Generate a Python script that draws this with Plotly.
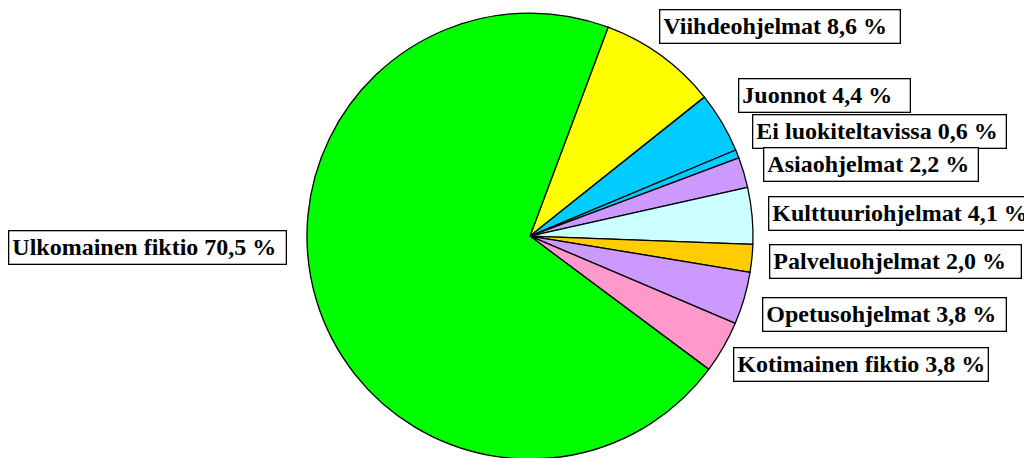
import plotly.graph_objects as go

categories = ["Viihdeohjelmat", "Juonnot", "Ei luokiteltavissa", "Asiaohjelmat",
              "Kulttuuriohjelmat", "Palveluohjelmat", "Opetusohjelmat",
              "Kotimainen fiktio", "Ulkomainen fiktio"]
values = [8.6, 4.4, 0.6, 2.2, 4.1, 2.0, 3.8, 3.8, 70.5]
value_labels = ["8,6", "4,4", "0,6", "2,2", "4,1", "2,0", "3,8", "3,8", "70,5"]
colors = ["#FFFF00", "#00CCFF", "#00CCFF", "#CC99FF", "#CCFFFF", "#FFCC00",
          "#CC99FF", "#FF99CC", "#00FF00"]

W, H = 1032, 458
# label box layout in pixels: left edge, centre y, box width
box_left = [659, 738, 752, 763, 768, 769, 762, 733, 8]
box_cy = [25.5, 95, 130, 163.5, 212.5, 260, 313.5, 363, 246]
box_w = [242, 173, 255, 216, 263, 253, 245, 256, 279]

fig = go.Figure(go.Pie(
    labels=categories, values=values, sort=False, direction="clockwise",
    rotation=20.5, marker=dict(colors=colors, line=dict(color="black", width=1.3)),
    textinfo="none", hoverinfo="label+percent", showlegend=False,
    domain=dict(x=[0.2897, 0.7219], y=[0.015, 0.989]),
))

bw, bp = 1.3, 3
for c, v, lx, cy, w in zip(categories, value_labels, box_left, box_cy, box_w):
    fig.add_annotation(
        x=lx / W, y=1 - cy / H, xref="paper", yref="paper", showarrow=False,
        xanchor="left", yanchor="middle", align="left", xshift=-8, yshift=7,
        width=w - 2 * (bw + bp),
        text=f"<b>{c} {v} %</b>",
        font=dict(family="Liberation Serif", size=24, color="black"),
        bgcolor="white", bordercolor="black", borderwidth=bw, borderpad=bp,
    )

fig.update_layout(width=W, height=H, margin=dict(l=0, r=0, t=0, b=0),
                  paper_bgcolor="white", plot_bgcolor="white")
fig.write_html("out.html")
